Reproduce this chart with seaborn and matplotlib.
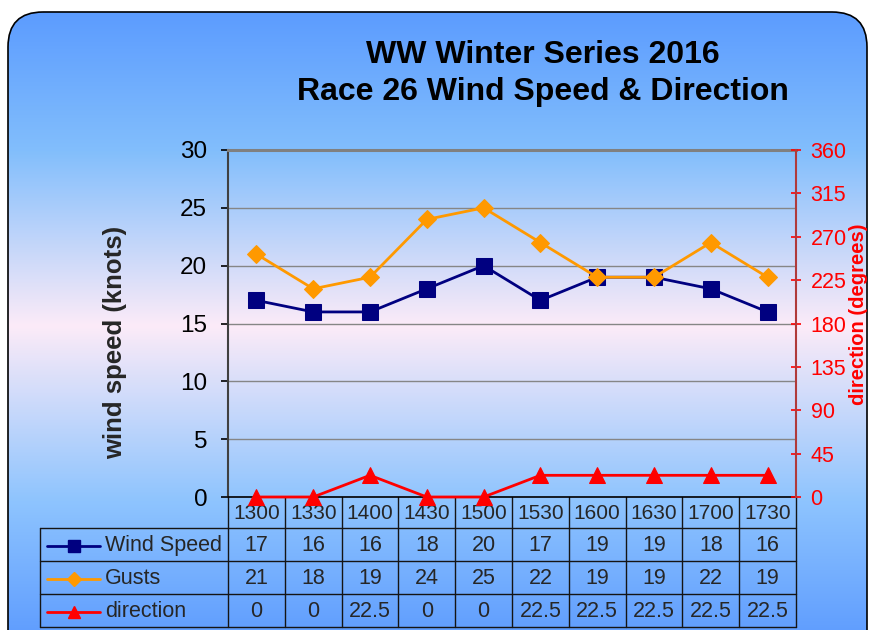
import numpy as np
import pandas as pd
import seaborn as sns
import matplotlib.pyplot as plt
from matplotlib.patches import FancyBboxPatch
from matplotlib.colors import LinearSegmentedColormap
from matplotlib.lines import Line2D

# data
times = ['1300', '1330', '1400', '1430', '1500', '1530', '1600', '1630', '1700', '1730']
wind_speed = [17, 16, 16, 18, 20, 17, 19, 19, 18, 16]
gusts = [21, 18, 19, 24, 25, 22, 19, 19, 22, 19]
direction = [0, 0, 22.5, 0, 0, 22.5, 22.5, 22.5, 22.5, 22.5]
series_names = ['Wind Speed', 'Gusts', 'direction']

df = pd.DataFrame({'time': times, 'Wind Speed': wind_speed,
                   'Gusts': gusts, 'direction': direction})

sns.set_style('white')
plt.rcParams['font.family'] = ['Liberation Sans', 'DejaVu Sans']

W, H = 869, 630
fig = plt.figure(figsize=(W / 100, H / 100), dpi=100)

# background with gradient inside a rounded box (pixel coords)
bg = fig.add_axes([0, 0, 1, 1], zorder=-10)
bg.set_xlim(0, W)
bg.set_ylim(H, 0)
bg.axis('off')
cmap = LinearSegmentedColormap.from_list('bg', [(0, '#5c9cff'), (0.22, '#82befc'),
                                                (0.5, '#fcebf8'), (0.78, '#8ec4fe'),
                                                (1, '#5e9cff')])
grad = np.linspace(0, 1, 256).reshape(-1, 1)
box = FancyBboxPatch((8, 12), W - 10, H + 60, boxstyle='round,pad=0,rounding_size=35',
                     fc='none', ec='black', lw=1.2, zorder=3)
bg.add_patch(box)
im = bg.imshow(grad, cmap=cmap, extent=[8, W, H + 10, 12], aspect='auto', zorder=1)
im.set_clip_path(box)

# titles
fig.text(543 / W, 1 - 55 / H, 'WW Winter Series 2016', ha='center', va='center',
         fontsize=23, fontweight='bold', color='black')
fig.text(543 / W, 1 - 92 / H, 'Race 26 Wind Speed & Direction', ha='center', va='center',
         fontsize=23, fontweight='bold', color='black')

# main plot
left, right, top, bottom = 228, 796, 150, 497
ax = fig.add_axes([left / W, 1 - bottom / H, (right - left) / W, (bottom - top) / H])
ax.patch.set_alpha(0)
sns.lineplot(data=df, x='time', y='Wind Speed', ax=ax, color='#000080', lw=2,
             marker='s', markersize=11.5, markeredgecolor='#000080')
sns.lineplot(data=df, x='time', y='Gusts', ax=ax, color='#ff9900', lw=2,
             marker='D', markersize=9.5, markeredgecolor='#ff9900')
ax.set_xlim(-0.5, len(times) - 0.5)
ax.set_ylim(0, 30)
ax.set_yticks(range(0, 31, 5))
ax.set_xticks([])
ax.set_xlabel('')
ax.set_ylabel('')
ax.yaxis.grid(True, color='#868686', lw=1)
ax.set_axisbelow(True)
ax.spines['left'].set_color('#404040')
ax.spines['left'].set_linewidth(1.5)
ax.spines['top'].set_color('#808080')
ax.spines['top'].set_linewidth(2.2)
ax.spines['bottom'].set_color('black')
ax.spines['bottom'].set_linewidth(1.2)
ax.spines['right'].set_visible(False)
ax.tick_params(axis='y', direction='out', length=5, width=1.2, labelsize=17.5,
               pad=10, colors='black', left=True)

ax2 = ax.twinx()
sns.lineplot(data=df, x='time', y='direction', ax=ax2, color='#ff0000', lw=2,
             marker='^', markersize=11, markeredgecolor='#ff0000', clip_on=False)
ax2.set_ylim(0, 360)
ax2.set_yticks(range(0, 361, 45))
ax2.set_xticks([])
ax2.set_xlabel('')
ax2.set_ylabel('')
for s in ['top', 'left', 'bottom']:
    ax2.spines[s].set_visible(False)
ax2.spines['right'].set_color('#b03a3a')
ax2.spines['right'].set_linewidth(1.5)
ax2.tick_params(axis='y', direction='inout', length=7, width=1.2, labelsize=15.5,
                pad=7, colors='#ff0000', right=True)

fig.text(115 / W, 1 - 342 / H, 'wind speed (knots)', rotation=90, ha='center',
         va='center', fontsize=18.5, fontweight='bold')
fig.text(858 / W, 1 - 314 / H, 'direction (degrees)', rotation=90, ha='center',
         va='center', fontsize=14.5, fontweight='bold', color='#ff0000')

# data table under the plot (pixel coords on the background axes)
n = len(times)
col_w = (right - left) / n
rows = [497, 528, 561, 594, 627]
tl = 40
lc = '#151515'
for y in rows[1:]:
    bg.plot([tl, right], [y, y], color=lc, lw=1, zorder=5)
bg.plot([tl, tl], [rows[1], rows[-1]], color=lc, lw=1, zorder=5)
for i in range(n + 1):
    bg.plot([left + i * col_w] * 2, [rows[0], rows[-1]], color=lc, lw=1, zorder=5)

for i, t in enumerate(times):
    bg.text(left + (i + 0.5) * col_w, (rows[0] + rows[1]) / 2 + 1, t, ha='center',
            va='center', fontsize=15, zorder=6)

table_vals = [wind_speed, gusts, direction]
styles = [('#000080', 's', 9), ('#ff9900', 'D', 7.5), ('#ff0000', '^', 9)]
for r, (name, vals, (c, m, ms)) in enumerate(zip(series_names, table_vals, styles)):
    yc = (rows[r + 1] + rows[r + 2]) / 2 + 1
    bg.add_line(Line2D([47, 100], [yc, yc], color=c, lw=2, zorder=6))
    bg.add_line(Line2D([73.5], [yc], color=c, marker=m, markersize=ms, zorder=7))
    bg.text(105, yc, name, ha='left', va='center', fontsize=15.5, zorder=6)
    for i, v in enumerate(vals):
        bg.text(left + (i + 0.5) * col_w, yc, f'{v:g}', ha='center', va='center',
                fontsize=15.5, zorder=6)

fig.savefig('out.png', dpi=100)
